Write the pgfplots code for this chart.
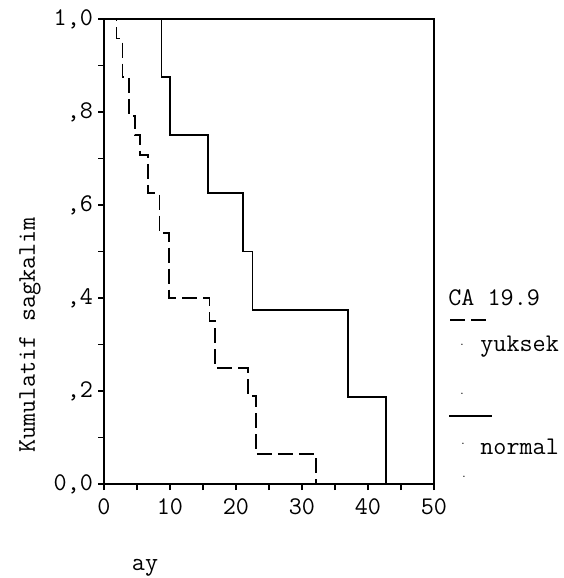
\documentclass[border=0pt]{standalone}
\usepackage{pgfplots}
\pgfplotsset{compat=1.18}
\begin{document}
\begin{tikzpicture}[font=\ttfamily\fontsize{12.7}{15}\selectfont]
\path[use as bounding box] (-52pt,-47pt) rectangle (229.5pt,242pt);
\begin{axis}[
  at={(0,0)}, anchor=south west,
  scale only axis, width=165pt, height=232.5pt,
  xmin=0, xmax=50, ymin=0, ymax=1,
  clip=false,
  axis line style={line width=0.8pt},
  xtick={0,10,20,30,40,50},
  minor xtick={5,15,25,35,45},
  ytick={0,0.2,0.4,0.6,0.8,1},
  yticklabels={{0,0},{,2},{,4},{,6},{,8},{1,0}},
  minor ytick={0.1,0.3,0.5,0.7,0.9},
  tick align=outside,
  major tick length=3pt, minor tick length=3pt,
  tick style={line width=0.7pt, black},
  xtick pos=bottom, ytick pos=left,
  ticklabel style={font=\ttfamily\fontsize{12.7}{15}\selectfont},
  xticklabel style={yshift=-1pt},
  yticklabel style={xshift=1pt},
  /pgf/number format/assume math mode=true,
]
% normal (solid)
\addplot[const plot, black, line width=0.9pt] coordinates {
  (0,1) (8.7,0.875) (10.0,0.75) (15.8,0.625) (21.1,0.5)
  (22.5,0.375) (37.0,0.1875) (42.7,0)
};
% yuksek (dashed)
\addplot[const plot, black, line width=0.9pt, dash pattern=on 7.5pt off 3pt] coordinates {
  (0,1) (1.9,0.958) (2.8,0.875) (3.8,0.792) (4.7,0.75) (5.5,0.708)
  (6.7,0.625) (8.4,0.54) (9.9,0.40) (16.0,0.35) (16.8,0.25)
  (21.8,0.19) (23.0,0.064) (32.1,0)
};
\end{axis}
% axis labels
\node[rotate=90] at (-37pt,74.5pt) {Kumulatif sagkalim};
\node at (20.5pt,-42pt) {ay};
% legend
\node[anchor=west, inner sep=0pt] at (172pt,93pt) {CA 19.9};
\draw[line width=0.9pt, dash pattern=on 7.5pt off 3pt] (173pt,82pt) -- (191.5pt,82pt);
\node[inner sep=0pt] at (179pt,69.5pt) {\tiny .};
\node[anchor=west, inner sep=0pt] at (188pt,68.7pt) {yuksek};
\node[inner sep=0pt] at (179pt,45pt) {\tiny .};
\draw[line width=0.9pt] (172.5pt,34pt) -- (193.8pt,34pt);
\node[inner sep=0pt] at (179.5pt,20pt) {\tiny .};
\node[anchor=west, inner sep=0pt] at (188pt,18.7pt) {normal};
\node[inner sep=0pt] at (180pt,3.5pt) {\tiny .};
\end{tikzpicture}
\end{document}
